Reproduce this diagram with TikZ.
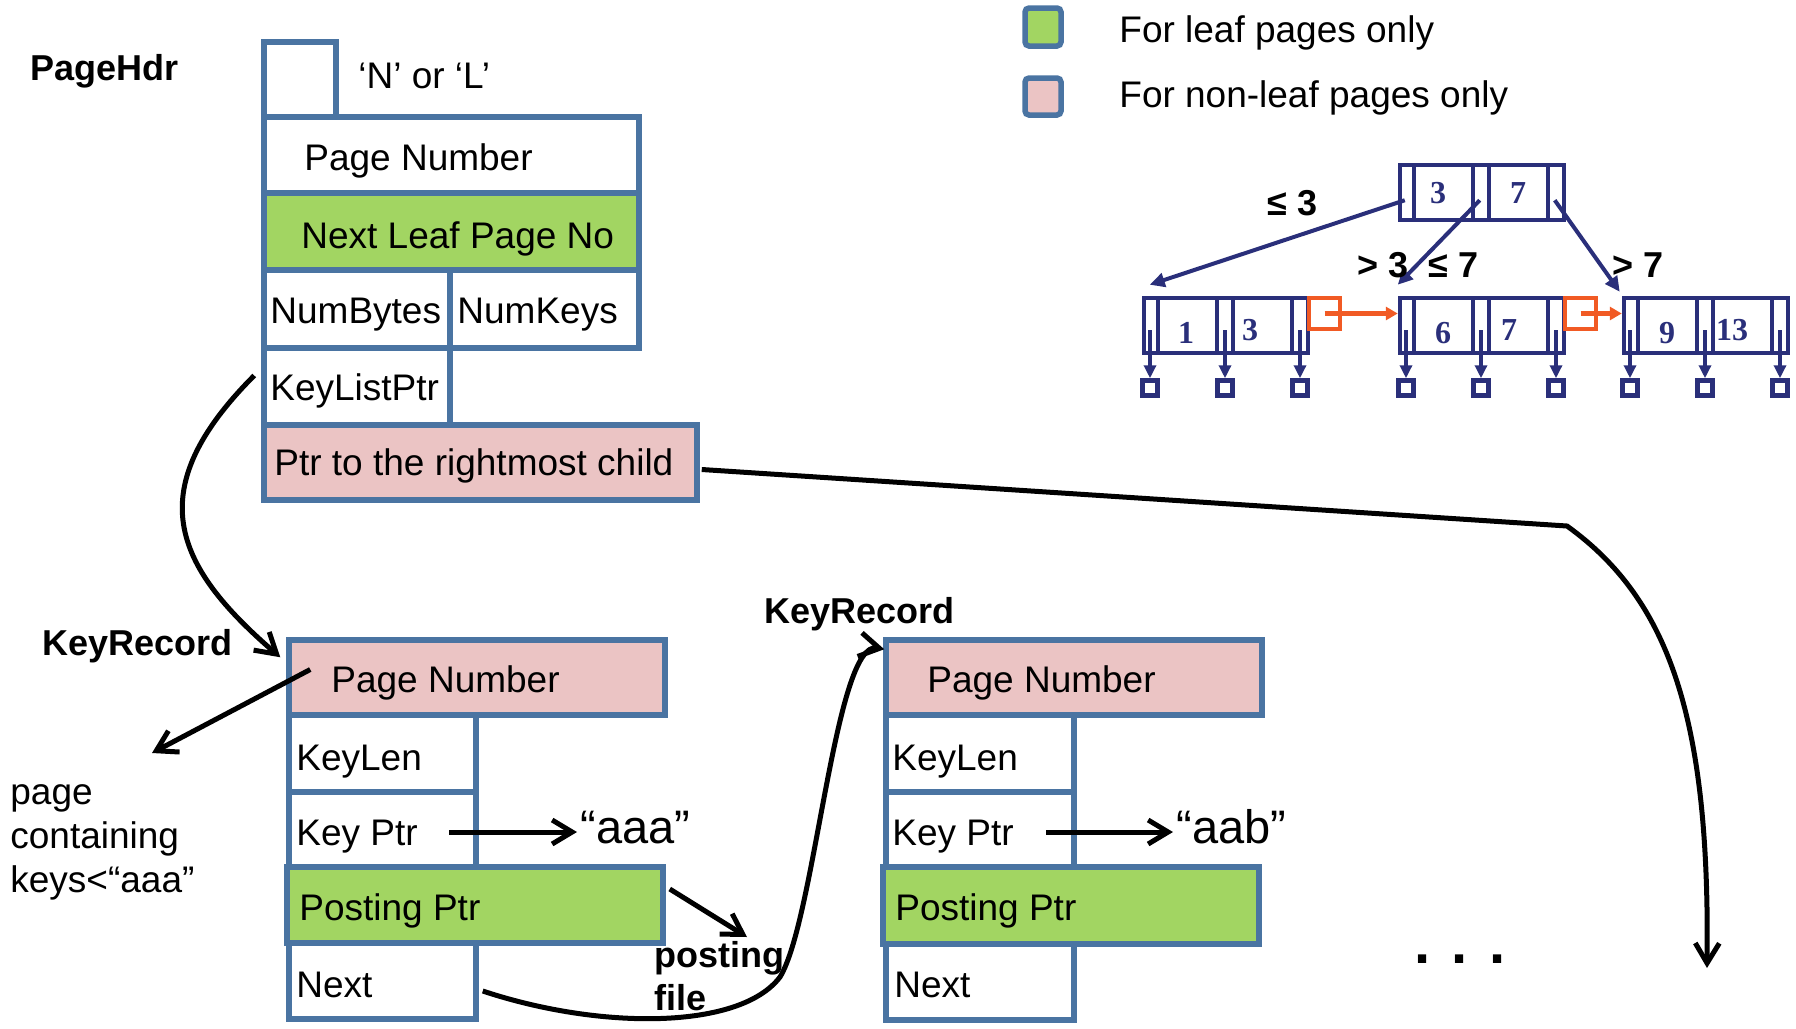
\documentclass[tikz,border=0pt]{standalone}
\usepackage{fontspec}
\setmainfont{Liberation Sans}
\newfontfamily\tnr{Liberation Serif}
\usetikzlibrary{arrows.meta,fit,calc}
\definecolor{bord}{HTML}{4A74A2}
\definecolor{lgreen}{HTML}{A2D562}
\definecolor{lpink}{HTML}{EBC4C4}
\definecolor{navy}{HTML}{2A2F7A}
\definecolor{orng}{HTML}{F15A24}
\newcommand{\btnode}[3]{%
  \node[tnode, fit={({#2+2},{#3+2}) ({#2+166},{#3+57})}] (#1) {};
  \foreach \dx in {16,75,91,150}{\draw[tline] ({#2+\dx},{#3+2}) -- ({#2+\dx},{#3+57});}
}
\begin{document}
\begin{tikzpicture}[x=0.5pt,y=-0.5pt,
  fld/.style={draw=bord, line width=2.75pt, fill=white, inner sep=0pt},
  grn/.style={fld, fill=lgreen},
  pnk/.style={fld, fill=lpink},
  txt/.style={anchor=base west, inner sep=0pt, font=\fontsize{18.5pt}{22pt}\selectfont},
  btxt/.style={anchor=base west, inner sep=0pt, font=\fontsize{18pt}{22pt}\selectfont\bfseries},
  qtxt/.style={anchor=base west, inner sep=0pt, font=\fontsize{23.5pt}{28pt}\selectfont},
  ltxt/.style={anchor=base west, inner sep=0pt, font=\fontsize{18pt}{20pt}\selectfont\bfseries},
  arr/.style={line width=2.5pt, -{Straight Barb[length=10pt,width=12pt]}},
  tnode/.style={draw=navy, line width=2.25pt, inner sep=0pt, fill=white},
  tline/.style={draw=navy, line width=2.25pt},
  dig/.style={anchor=base, inner sep=0pt, text=navy, font=\tnr\bfseries\fontsize{16pt}{18pt}\selectfont},
  tarr/.style={draw=navy, line width=2pt, -{Triangle[length=6.5pt,width=6pt]}},
  tarrb/.style={draw=navy, line width=2pt, -{Triangle[length=7.5pt,width=7pt]}},
  sq/.style={draw=navy, line width=2.25pt, minimum size=7.5pt, inner sep=0pt, fill=white},
  obox/.style={draw=orng, line width=2.25pt, inner sep=0pt},
  oarr/.style={draw=orng, line width=2.25pt, -{Triangle[length=6pt,width=6.5pt]}},
]
\useasboundingbox (0,0) rectangle (1796,1029);

% ---------- PageHdr ----------
\node[btxt] (phl) at (30,80) {PageHdr};
\node[fld, fit={(264,42) (336,117)}] (nl) {};
\node[fld, fit={(264,117) (639,193)}] (hpn) {};
\node[grn, fit={(264,193) (639,270)}] (hnl) {};
\node[fld, fit={(264,270) (450,348)}] (hnb) {};
\node[fld, fit={(450,270) (639,348)}] (hnk) {};
\node[fld, fit={(264,348) (450,425)}] (klp) {};
\node[pnk, fit={(264,425) (697,500)}] (ptr) {};
\node[txt] (tnl) at (358,88) {‘N’ or ‘L’};
\node[txt] (thpn) at (304,170) {Page Number};
\node[txt] (thnl) at (301,248) {Next Leaf Page No};
\node[txt] (thnb) at (270,323) {NumBytes};
\node[txt] (thnk) at (457,323) {NumKeys};
\node[txt] (tklp) at (270,400) {KeyListPtr};
\node[txt] (tptr) at (274,475) {Ptr to the rightmost child};

% ---------- legend ----------
\node[grn, rounded corners=2pt, fit={(1025,8) (1061,46)}] (lg1) {};
\node[pnk, rounded corners=2pt, fit={(1025,78) (1061,115)}] (lg2) {};
\node[txt] (tlg1) at (1119,42) {For leaf pages only};
\node[txt] (tlg2) at (1119,107) {For non-leaf pages only};

% ---------- B+ tree ----------
\btnode{root}{1398}{163}
\btnode{leaf1}{1142}{296}
\btnode{leaf2}{1398}{296}
\btnode{leaf3}{1622}{296}
\node[dig] (r3) at (1438,203) {3};
\node[dig] (r7) at (1518,203) {7};
\node[dig] (d1) at (1186,343) {1};
\node[dig] (d3) at (1250,340) {3};
\node[dig] (d6) at (1443,343) {6};
\node[dig] (d7) at (1509,340) {7};
\node[dig] (d9) at (1667,343) {9};
\node[dig] (d13) at (1732,340) {13};
\foreach \lx/\ln in {1142/a,1398/b,1622/c}{
  \foreach \dx/\k in {8/1,83/2,158/3}{
    \node[sq] (sq\ln\k) at ({\lx+\dx},388) {};
    \coordinate (pp\ln\k) at ({\lx+\dx},330);
    \draw[tarr] (pp\ln\k) -- (sq\ln\k.north);
  }
}
\node[obox, fit={(1309,298) (1340,329)}] (ob1) {};
\node[obox, fit={(1565,298) (1596,329)}] (ob2) {};
\draw[oarr] (ob1.center) -- (leaf2.west |- ob1.center);
\draw[oarr] (ob2.center) -- (leaf3.west |- ob2.center);
\coordinate (rs1) at ($(root.south west)+(7,-22)$);
\coordinate (rs2) at ($(root.south west)+(82,-22)$);
\coordinate (rs3) at ($(root.south west)+(157,-22)$);
\draw[tarrb] (rs1) -- ($(leaf1.north west)+(8,-11)$);
\draw[tarrb] (rs2) -- ($(leaf2.north west)+(0,-11)$);
\draw[tarrb] (rs3) -- ($(leaf3.north west)+(-2,-4)$);
\node[ltxt] (l1) at (1267,215) {≤ 3};
\node[ltxt] (l2) at (1357,277) {> 3\hspace{10pt}≤ 7};
\node[ltxt] (l3) at (1612,277) {> 7};

% ---------- KeyRecord 1 ----------
\node[btxt] (kr1) at (42,655) {KeyRecord};
\node[pnk, fit={(289,640) (665,715)}] (k1pn) {};
\node[fld, fit={(289,715) (476,792)}] (k1kl) {};
\node[fld, fit={(289,792) (476,867)}] (k1kp) {};
\node[grn, fit={(287,867) (663,943)}] (k1pp) {};
\node[fld, fit={(289,943) (476,1019)}] (k1nx) {};
\node[txt] (tk1pn) at (331,692) {Page Number};
\node[txt] (tk1kl) at (296,770) {KeyLen};
\node[txt] (tk1kp) at (296,845) {Key Ptr};
\node[txt] (tk1pp) at (299,920) {Posting Ptr};
\node[txt] (tk1nx) at (296,997) {Next};
\node[qtxt] (aaa) at (580,843) {“aaa”};
\node[txt] (pg1) at (10,804) {page};
\node[txt] (pg2) at (10,848) {containing};
\node[txt] (pg3) at (10,892) {keys<“aaa”};
\node[btxt] (post) at (654,967) {posting};
\node[btxt] (file) at (654,1010) {file};

% ---------- KeyRecord 2 ----------
\node[btxt] (kr2) at (764,623) {KeyRecord};
\node[pnk, fit={(886,640) (1262,715)}] (k2pn) {};
\node[fld, fit={(886,715) (1074,792)}] (k2kl) {};
\node[fld, fit={(886,792) (1074,867)}] (k2kp) {};
\node[grn, fit={(883,867) (1259,944)}] (k2pp) {};
\node[fld, fit={(886,944) (1074,1020)}] (k2nx) {};
\node[txt] (tk2pn) at (927,692) {Page Number};
\node[txt] (tk2kl) at (892,770) {KeyLen};
\node[txt] (tk2kp) at (892,845) {Key Ptr};
\node[txt] (tk2pp) at (895,920) {Posting Ptr};
\node[txt] (tk2nx) at (894,997) {Next};
\node[qtxt] (aab) at (1176,843) {“aab”};
\node[anchor=base west, inner sep=0pt, font=\fontsize{29pt}{34pt}\selectfont\bfseries] (dots) at (1414,963) {. . .};

% ---------- connectors ----------
\coordinate (klpS) at ($(klp.west)+(-7,-11)$);
\coordinate (k1in) at ($(k1pn.north west)+(-6,20)$);
\draw[arr] (klpS) .. controls (140,490) and (173,565) .. (k1in);

\coordinate (ptrS) at ($(ptr.east)+(2,7)$);
\coordinate (bend) at (1567,526);
\coordinate (rend) at (1707,968);
\draw[arr] (ptrS) -- (bend) .. controls (1670,600) and (1710,720) .. (rend);

\coordinate (pnS) at ($(k1pn.west)+(24,-8)$);
\coordinate (pgE) at (152,753);
\draw[arr] (pnS) -- (pgE);

\coordinate (kp1S) at (449,832);
\draw[arr] (kp1S) -- ($(aaa.base west)+(-3,-11)$);
\coordinate (kp2S) at (1046,832);
\draw[arr] (kp2S) -- ($(aab.base west)+(-3,-11)$);

\draw[arr] ($(k1pp.east)+(4,-16)$) -- ($(post.base west)+(93,-30)$);

\draw[arr] ($(k1nx.east)+(4,10)$) .. controls (600,1030) and (740,1030) .. (780,977)
  .. controls (815,920) and (835,640) .. ($(k2pn.north west)+(1,12)$);
\end{tikzpicture}
\end{document}
